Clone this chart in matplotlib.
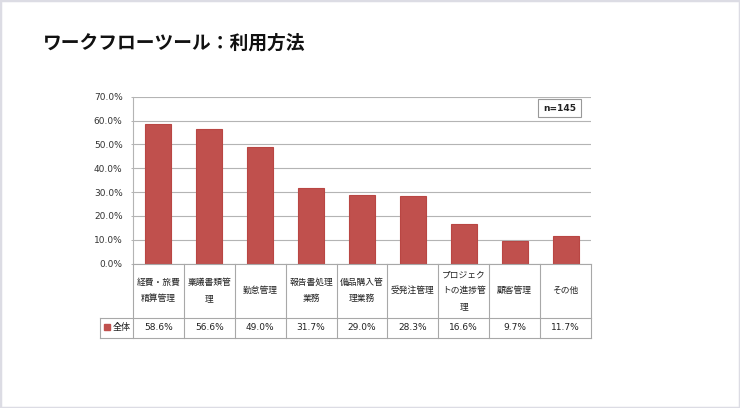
import matplotlib.pyplot as plt
import matplotlib.transforms as mtransforms
from matplotlib.lines import Line2D
from matplotlib.patches import Rectangle

plt.rcParams['font.family'] = ['DejaVu Sans', 'Noto Sans CJK JP']

# Data
categories = ['経費・旅費\n精算管理', '稟議書類管\n理', '勤怠管理', '報告書処理\n業務',
              '備品購入管\n理業務', '受発注管理', 'プロジェク\nトの進捗管\n理', '顧客管理', 'その他']
values = [58.6, 56.6, 49.0, 31.7, 29.0, 28.3, 16.6, 9.7, 11.7]
series_name = '全体'
title = 'ワークフローツール：利用方法'
n_label = 'n=145'

W, H = 740, 408
bar_color = '#c0504d'
grid_color = '#b4b4b4'
line_color = '#a8a8a8'
cjk = ['Noto Sans CJK JP', 'DejaVu Sans']

fig = plt.figure(figsize=(W / 100, H / 100), dpi=100)

# plot area in pixels
left, right, top, bottom = 133, 591, 96.7, 263.7
ax = fig.add_axes([left / W, 1 - bottom / H, (right - left) / W, (bottom - top) / H])

x = range(len(values))
ax.bar(x, values, width=0.51, color=bar_color, edgecolor='#b94643', linewidth=0.8, zorder=3)

ax.set_xlim(-0.5, len(values) - 0.5)
ax.set_ylim(0, 70)
ax.set_yticks(range(0, 71, 10))
ax.set_yticklabels([f'{v:.1f}%' for v in range(0, 71, 10)])
ax.tick_params(axis='y', length=1.5, width=0.7, color=grid_color, pad=6,
               labelsize=6.5, labelcolor='#333333')
ax.set_xticks([])
ax.grid(axis='y', color=grid_color, linewidth=0.8, zorder=0)
for s in ['top', 'right', 'bottom']:
    ax.spines[s].set_visible(False)
ax.spines['left'].set_color(grid_color)
ax.spines['left'].set_linewidth(0.8)

# n box
ax.add_patch(Rectangle((0.884, 0.878), 0.094, 0.108, transform=ax.transAxes,
                       facecolor='white', edgecolor='#999999', linewidth=0.8, zorder=4))
ax.text(0.931, 0.932, n_label, transform=ax.transAxes, ha='center', va='center',
        fontsize=6.5, fontweight='bold', color='#222222', zorder=5)

# data table below the plot
tr = mtransforms.blended_transform_factory(ax.transData, fig.transFigure)
head_bot, tab_bot = 317.7, 338.0
fy = lambda p: 1 - p / H
leg_x = -0.5 - (left - 100) / ((right - left) / len(values))

def hline(x0, x1, y):
    fig.add_artist(Line2D([x0, x1], [fy(y), fy(y)], transform=tr, color=line_color, linewidth=0.8))

def vline(xv, y0, y1):
    fig.add_artist(Line2D([xv, xv], [fy(y0), fy(y1)], transform=tr, color=line_color, linewidth=0.8))

hline(-0.5, len(values) - 0.5, bottom)
hline(leg_x, len(values) - 0.5, head_bot)
hline(leg_x, len(values) - 0.5, tab_bot)
for i in range(len(values) + 1):
    vline(i - 0.5, bottom, tab_bot)
vline(leg_x, head_bot, tab_bot)

for i, (c, v) in enumerate(zip(categories, values)):
    fig.text(i, fy((bottom + head_bot) / 2), c, transform=tr, ha='center', va='center',
             fontsize=6.3, linespacing=2.0, color='#222222', family=cjk)
    fig.text(i, fy((head_bot + tab_bot) / 2), f'{v:.1f}%', transform=tr, ha='center',
             va='center', fontsize=6.5, color='#222222')

# legend key
fig.add_artist(Line2D([106.5 / W], [fy(327)], marker='s', markersize=4.2, color=bar_color,
                      linestyle='none', transform=fig.transFigure))
fig.text(113 / W, fy(327.5), series_name, ha='left', va='center', fontsize=6.5,
         color='#222222', family=cjk)

# title
fig.text(43 / W, fy(43), title, ha='left', va='center', fontsize=13.5, fontweight='bold',
         color='#111111', family=cjk)

# outer border
fig.add_artist(Rectangle((0, 0), 1, 1, transform=fig.transFigure, fill=False,
                         edgecolor='#dcdce4', linewidth=2.5))

fig.savefig('out.png', dpi=100)
